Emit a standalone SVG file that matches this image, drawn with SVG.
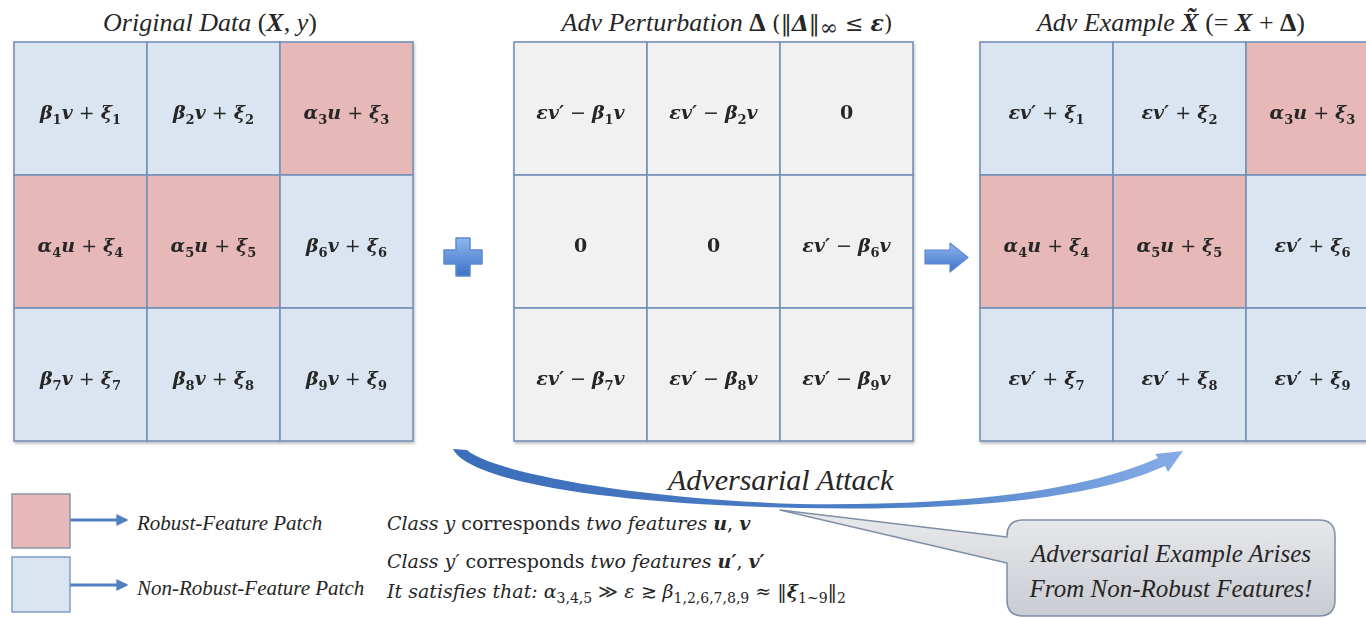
<svg xmlns="http://www.w3.org/2000/svg" width="1366" height="618" viewBox="0 0 1366 618">
<style>
.t{font-family:"Liberation Serif",serif;font-style:italic;font-size:26px;fill:#262626}
.m{font-family:"DejaVu Serif",serif;font-style:italic;font-weight:bold;font-size:19px;fill:#262626;text-anchor:middle}
.s{font-size:13px;font-style:normal}
.op{font-style:normal;font-weight:normal}
.n{font-style:normal}
.up{font-style:normal}
.bi{font-weight:bold;font-style:italic}
.b{font-weight:bold;font-style:normal}
.i{font-style:italic}
.dm{font-family:"DejaVu Serif",serif;font-size:22px}
.c{font-family:"DejaVu Serif",serif;font-size:19px;fill:#262626}
.leg{font-family:"Liberation Serif",serif;font-style:italic;font-size:21px;fill:#262626}
.cal{font-family:"Liberation Serif",serif;font-style:italic;font-size:25px;fill:#262626;text-anchor:middle}
.cb{fill:#dbe5f1}
.cp{fill:#e6b9b8}
.cg{fill:#f1f1f1}
.grid rect{stroke:#7590b8;stroke-width:1.6}
</style>
<defs>
<filter id="sh" x="-5%" y="-5%" width="110%" height="110%"><feDropShadow dx="1" dy="2" stdDeviation="1.5" flood-color="#000" flood-opacity="0.25"/></filter>
<linearGradient id="blueG" x1="0" y1="0" x2="0" y2="1"><stop offset="0" stop-color="#8fb5ec"/><stop offset="1" stop-color="#3d72c8"/></linearGradient>
<linearGradient id="curveG" x1="0" y1="0" x2="1" y2="0"><stop offset="0" stop-color="#3c6db9"/><stop offset="0.6" stop-color="#4d7fc8"/><stop offset="1" stop-color="#86ace6"/></linearGradient>
<linearGradient id="calG" x1="0" y1="0" x2="0" y2="1"><stop offset="0" stop-color="#e9eaed"/><stop offset="1" stop-color="#c9ccd2"/></linearGradient>
<marker id="ah" viewBox="0 0 10 10" refX="8" refY="5" markerWidth="4" markerHeight="4" orient="auto"><path d="M0 0 L10 5 L0 10 Z" fill="#4f7fc0"/></marker>
</defs>

<text class="t" x="210" y="31" text-anchor="middle">Original Data <tspan class="up">(</tspan><tspan class="bi">X</tspan><tspan class="up">, </tspan>y<tspan class="up">)</tspan></text>
<text class="t" x="727" y="31" text-anchor="middle">Adv Perturbation <tspan class="b">Δ</tspan> <tspan class="up dm">(‖</tspan><tspan class="bi dm">Δ</tspan><tspan class="up dm">‖</tspan><tspan class="up dm" font-size="15" dy="4">∞</tspan><tspan class="up dm" dy="-4"> ≤ </tspan><tspan class="bi dm">ε</tspan><tspan class="up dm">)</tspan></text>
<text class="t" x="1171" y="31" text-anchor="middle">Adv Example <tspan class="bi">X̃</tspan> <tspan class="up">(= </tspan><tspan class="bi">X</tspan><tspan class="up"> + </tspan><tspan class="b">Δ</tspan><tspan class="up">)</tspan></text>

<g id="original" class="grid" filter="url(#sh)">
<g id="o1"><rect class="cb" x="14" y="42" width="133" height="133"/><text class="m" x="80.5" y="119">β<tspan class="s" dy="5">1</tspan><tspan dy="-5">v</tspan><tspan class="op"> + </tspan>ξ<tspan class="s" dy="5">1</tspan></text></g>
<g id="o2"><rect class="cb" x="147" y="42" width="133" height="133"/><text class="m" x="213.5" y="119">β<tspan class="s" dy="5">2</tspan><tspan dy="-5">v</tspan><tspan class="op"> + </tspan>ξ<tspan class="s" dy="5">2</tspan></text></g>
<g id="o3"><rect class="cp" x="280" y="42" width="133" height="133"/><text class="m" x="346.5" y="119">α<tspan class="s" dy="5">3</tspan><tspan dy="-5">u</tspan><tspan class="op"> + </tspan>ξ<tspan class="s" dy="5">3</tspan></text></g>
<g id="o4"><rect class="cp" x="14" y="175" width="133" height="133"/><text class="m" x="80.5" y="252">α<tspan class="s" dy="5">4</tspan><tspan dy="-5">u</tspan><tspan class="op"> + </tspan>ξ<tspan class="s" dy="5">4</tspan></text></g>
<g id="o5"><rect class="cp" x="147" y="175" width="133" height="133"/><text class="m" x="213.5" y="252">α<tspan class="s" dy="5">5</tspan><tspan dy="-5">u</tspan><tspan class="op"> + </tspan>ξ<tspan class="s" dy="5">5</tspan></text></g>
<g id="o6"><rect class="cb" x="280" y="175" width="133" height="133"/><text class="m" x="346.5" y="252">β<tspan class="s" dy="5">6</tspan><tspan dy="-5">v</tspan><tspan class="op"> + </tspan>ξ<tspan class="s" dy="5">6</tspan></text></g>
<g id="o7"><rect class="cb" x="14" y="308" width="133" height="133"/><text class="m" x="80.5" y="385">β<tspan class="s" dy="5">7</tspan><tspan dy="-5">v</tspan><tspan class="op"> + </tspan>ξ<tspan class="s" dy="5">7</tspan></text></g>
<g id="o8"><rect class="cb" x="147" y="308" width="133" height="133"/><text class="m" x="213.5" y="385">β<tspan class="s" dy="5">8</tspan><tspan dy="-5">v</tspan><tspan class="op"> + </tspan>ξ<tspan class="s" dy="5">8</tspan></text></g>
<g id="o9"><rect class="cb" x="280" y="308" width="133" height="133"/><text class="m" x="346.5" y="385">β<tspan class="s" dy="5">9</tspan><tspan dy="-5">v</tspan><tspan class="op"> + </tspan>ξ<tspan class="s" dy="5">9</tspan></text></g>
</g>

<g id="perturbation" class="grid" filter="url(#sh)">
<g id="p1"><rect class="cg" x="514" y="42" width="133" height="133"/><text class="m" x="580.5" y="119">εv′<tspan class="op"> − </tspan>β<tspan class="s" dy="5">1</tspan><tspan dy="-5">v</tspan></text></g>
<g id="p2"><rect class="cg" x="647" y="42" width="133" height="133"/><text class="m" x="713.5" y="119">εv′<tspan class="op"> − </tspan>β<tspan class="s" dy="5">2</tspan><tspan dy="-5">v</tspan></text></g>
<g id="p3"><rect class="cg" x="780" y="42" width="133" height="133"/><text class="m n" x="846.5" y="119">0</text></g>
<g id="p4"><rect class="cg" x="514" y="175" width="133" height="133"/><text class="m n" x="580.5" y="252">0</text></g>
<g id="p5"><rect class="cg" x="647" y="175" width="133" height="133"/><text class="m n" x="713.5" y="252">0</text></g>
<g id="p6"><rect class="cg" x="780" y="175" width="133" height="133"/><text class="m" x="846.5" y="252">εv′<tspan class="op"> − </tspan>β<tspan class="s" dy="5">6</tspan><tspan dy="-5">v</tspan></text></g>
<g id="p7"><rect class="cg" x="514" y="308" width="133" height="133"/><text class="m" x="580.5" y="385">εv′<tspan class="op"> − </tspan>β<tspan class="s" dy="5">7</tspan><tspan dy="-5">v</tspan></text></g>
<g id="p8"><rect class="cg" x="647" y="308" width="133" height="133"/><text class="m" x="713.5" y="385">εv′<tspan class="op"> − </tspan>β<tspan class="s" dy="5">8</tspan><tspan dy="-5">v</tspan></text></g>
<g id="p9"><rect class="cg" x="780" y="308" width="133" height="133"/><text class="m" x="846.5" y="385">εv′<tspan class="op"> − </tspan>β<tspan class="s" dy="5">9</tspan><tspan dy="-5">v</tspan></text></g>
</g>

<g id="adversarial" class="grid" filter="url(#sh)">
<g id="a1"><rect class="cb" x="980" y="42" width="133" height="133"/><text class="m" x="1046.5" y="119">εv′<tspan class="op"> + </tspan>ξ<tspan class="s" dy="5">1</tspan></text></g>
<g id="a2"><rect class="cb" x="1113" y="42" width="133" height="133"/><text class="m" x="1179.5" y="119">εv′<tspan class="op"> + </tspan>ξ<tspan class="s" dy="5">2</tspan></text></g>
<g id="a3"><rect class="cp" x="1246" y="42" width="133" height="133"/><text class="m" x="1312.5" y="119">α<tspan class="s" dy="5">3</tspan><tspan dy="-5">u</tspan><tspan class="op"> + </tspan>ξ<tspan class="s" dy="5">3</tspan></text></g>
<g id="a4"><rect class="cp" x="980" y="175" width="133" height="133"/><text class="m" x="1046.5" y="252">α<tspan class="s" dy="5">4</tspan><tspan dy="-5">u</tspan><tspan class="op"> + </tspan>ξ<tspan class="s" dy="5">4</tspan></text></g>
<g id="a5"><rect class="cp" x="1113" y="175" width="133" height="133"/><text class="m" x="1179.5" y="252">α<tspan class="s" dy="5">5</tspan><tspan dy="-5">u</tspan><tspan class="op"> + </tspan>ξ<tspan class="s" dy="5">5</tspan></text></g>
<g id="a6"><rect class="cb" x="1246" y="175" width="133" height="133"/><text class="m" x="1312.5" y="252">εv′<tspan class="op"> + </tspan>ξ<tspan class="s" dy="5">6</tspan></text></g>
<g id="a7"><rect class="cb" x="980" y="308" width="133" height="133"/><text class="m" x="1046.5" y="385">εv′<tspan class="op"> + </tspan>ξ<tspan class="s" dy="5">7</tspan></text></g>
<g id="a8"><rect class="cb" x="1113" y="308" width="133" height="133"/><text class="m" x="1179.5" y="385">εv′<tspan class="op"> + </tspan>ξ<tspan class="s" dy="5">8</tspan></text></g>
<g id="a9"><rect class="cb" x="1246" y="308" width="133" height="133"/><text class="m" x="1312.5" y="385">εv′<tspan class="op"> + </tspan>ξ<tspan class="s" dy="5">9</tspan></text></g>
</g>

<g id="plus"><path d="M456 238 H470 V250 H482 V264 H470 V276 H456 V264 H444 V250 H456 Z" fill="url(#blueG)" stroke="#5a8ad4" stroke-width="1.5" stroke-linejoin="round"/></g>
<g id="equals-arrow"><path d="M925 250 H950 V243 L968 257.5 L950 272 V264 H925 Z" fill="url(#blueG)" stroke="#5a8ad4" stroke-width="1.2" stroke-linejoin="round"/></g>

<g id="connectors">
<path id="attack-arrow" d="M453 449 L467 450 C488 470 620 498 800 504 C960 506 1080 492 1158 458 L1155 454 L1183 451 L1168 472 L1165 466 C1090 500 960 511 800 508 C600 504 468 480 453 449 Z" fill="url(#curveG)"/>
<line x1="70" y1="520" x2="126" y2="520" stroke="#4f7fc0" stroke-width="3" marker-end="url(#ah)"/>
<line x1="70" y1="585" x2="126" y2="585" stroke="#4f7fc0" stroke-width="3" marker-end="url(#ah)"/>
</g>
<text class="t" x="668" y="490" style="font-size:30px">Adversarial Attack</text>

<g id="legend">
<g id="leg-robust"><rect x="12" y="494" width="58" height="54" fill="#e6b9b8" stroke="#8b97aa" stroke-width="1.5"/><text class="leg" x="137" y="530">Robust-Feature Patch</text></g>
<g id="leg-nonrobust"><rect x="12" y="557" width="58" height="55" fill="#dbe5f1" stroke="#7f9cc4" stroke-width="1.5"/><text class="leg" x="137" y="595">Non-Robust-Feature Patch</text></g>
</g>

<g id="notes">
<text class="c" x="387" y="530"><tspan class="i">Class y</tspan> corresponds <tspan class="i">two features</tspan> <tspan class="bi">u</tspan>, <tspan class="bi">v</tspan></text>
<text class="c" x="387" y="568"><tspan class="i">Class y′</tspan> corresponds <tspan class="i">two features</tspan> <tspan class="bi">u′</tspan>, <tspan class="bi">v′</tspan></text>
<text class="c" x="387" y="598"><tspan class="i">It satisfies that:  α</tspan><tspan font-size="14" dy="5">3,4,5</tspan><tspan dy="-5"> ≫ </tspan><tspan class="i">ε</tspan> ≳ <tspan class="i">β</tspan><tspan font-size="14" dy="5">1,2,6,7,8,9</tspan><tspan dy="-5"> ≈ ‖</tspan><tspan class="bi">ξ</tspan><tspan font-size="14" dy="5">1~9</tspan><tspan dy="-5">‖</tspan><tspan font-size="14" dy="5">2</tspan></text>
</g>

<g id="callout">
<path d="M1023 520 H1319 Q1335 520 1335 536 V600 Q1335 616 1319 616 H1023 Q1007 616 1007 600 V563 L780 510 L1007 537 V536 Q1007 520 1023 520 Z" fill="url(#calG)" stroke="#7f8fa6" stroke-width="1.5" stroke-linejoin="round"/>
<text class="cal" x="1171" y="562">Adversarial Example Arises</text>
<text class="cal" x="1171" y="597">From Non-Robust Features!</text>
</g>
</svg>
